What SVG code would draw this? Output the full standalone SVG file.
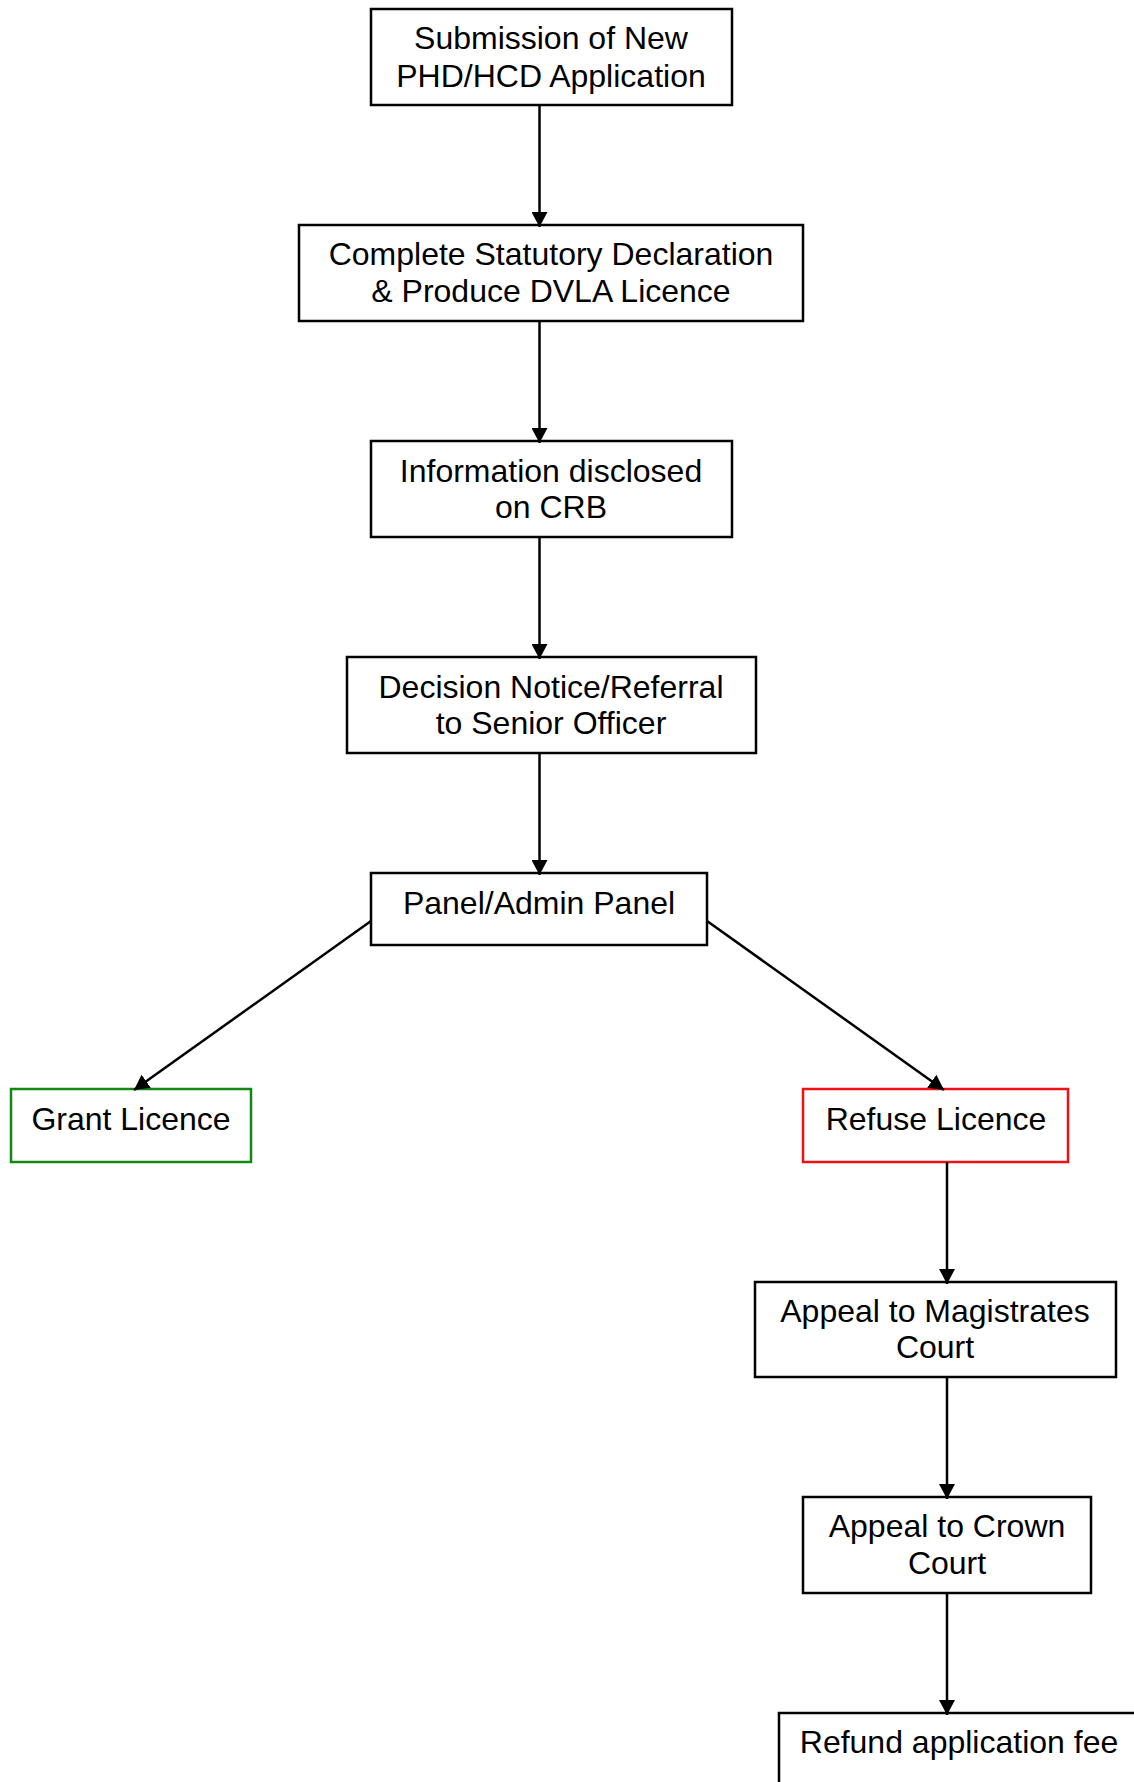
<svg xmlns="http://www.w3.org/2000/svg" width="1134" height="1782" viewBox="0 0 1134 1782">
<defs>
<marker id="ah" markerUnits="userSpaceOnUse" markerWidth="16" markerHeight="16" refX="15" refY="8" orient="auto" viewBox="0 0 16 16">
<path d="M0,0 L15,8 L0,16 z" fill="#000"/>
</marker>
<style>
.box{fill:#fff;stroke:#000;stroke-width:2.5}
.green{stroke:#118811}
.red{stroke:#ee1111}
text{font-family:"Liberation Sans",Arial,sans-serif;font-size:32px;fill:#000;text-anchor:middle}
.conn line{stroke:#000;stroke-width:2.5;marker-end:url(#ah)}
</style>
</defs>
<rect width="1134" height="1782" fill="#fff"/>
<g id="n1"><rect class="box" x="371" y="9" width="361" height="96"/><text x="551" y="49">Submission of New</text><text x="551" y="87">PHD/HCD Application</text></g>
<g id="n2"><rect class="box" x="299" y="225" width="504" height="96"/><text x="551" y="265">Complete Statutory Declaration</text><text x="551" y="302">&amp; Produce DVLA Licence</text></g>
<g id="n3"><rect class="box" x="371" y="441" width="361" height="96"/><text x="551" y="482">Information disclosed</text><text x="551" y="518">on CRB</text></g>
<g id="n4"><rect class="box" x="347" y="657" width="409" height="96"/><text x="551" y="698">Decision Notice/Referral</text><text x="551" y="734">to Senior Officer</text></g>
<g id="n5"><rect class="box" x="371" y="873" width="336" height="72"/><text x="539" y="914">Panel/Admin Panel</text></g>
<g id="n6"><rect class="box green" x="11" y="1089" width="240" height="73"/><text x="131" y="1130">Grant Licence</text></g>
<g id="n7"><rect class="box red" x="803" y="1089" width="265" height="73"/><text x="936" y="1130">Refuse Licence</text></g>
<g id="n8"><rect class="box" x="755" y="1282" width="361" height="95"/><text x="935" y="1322">Appeal to Magistrates</text><text x="935" y="1358">Court</text></g>
<g id="n9"><rect class="box" x="803" y="1497" width="288" height="96"/><text x="947" y="1537">Appeal to Crown</text><text x="947" y="1574">Court</text></g>
<g id="n10"><rect class="box" x="779" y="1713" width="400" height="120"/><text x="959" y="1753">Refund application fee</text></g>
<g class="conn" id="connectors">
<line x1="539.5" y1="105" x2="539.5" y2="227"/>
<line x1="539.5" y1="321" x2="539.5" y2="443"/>
<line x1="539.5" y1="537" x2="539.5" y2="659"/>
<line x1="539.5" y1="753" x2="539.5" y2="875"/>
<line x1="371" y1="921" x2="134" y2="1090"/>
<line x1="707" y1="921" x2="944" y2="1090"/>
<line x1="947" y1="1162" x2="947" y2="1284"/>
<line x1="947" y1="1377" x2="947" y2="1499"/>
<line x1="947" y1="1593" x2="947" y2="1715"/>
</g>
</svg>
